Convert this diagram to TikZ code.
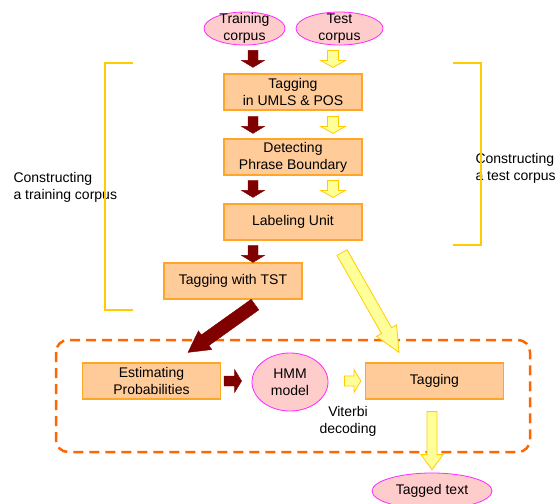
\documentclass[tikz,border=0pt]{standalone}
\usepackage{fontspec}
\setmainfont{Liberation Sans}
\usetikzlibrary{shapes, positioning, calc}

\definecolor{boxfill}{RGB}{255,204,153}
\definecolor{boxline}{RGB}{255,165,40}
\definecolor{ovalfill}{RGB}{255,204,204}
\definecolor{ovalline}{RGB}{255,40,255}
\definecolor{darkred}{RGB}{128,0,0}
\definecolor{lightyellow}{RGB}{255,255,153}
\definecolor{gold}{RGB}{255,204,0}
\definecolor{dashorange}{RGB}{255,102,0}

\tikzset{
  shaftw/.store in=\shaftw, headw/.store in=\headw, headl/.store in=\headl,
  gapa/.store in=\gapa, gapb/.store in=\gapb,
  shaftw=5pt, headw=11.5pt, headl=7pt, gapa=0pt, gapb=0pt,
  redarrow/.style={fill=darkred, draw=darkred, line width=0.4pt},
  yellowarrow/.style={fill=lightyellow, draw=gold, line width=0.8pt}
}

% block arrow from #2 to #3
\newcommand\blockarrow[3][]{%
  \path[#1] let \p1=#2, \p2=#3,
      \p3=($(\p1)!\gapa!(\p2)$), \p4=($(\p2)!\gapb!(\p1)$),
      \n1={veclen(\x4-\x3,\y4-\y3)} in
    ($(\p3)!\shaftw!90:(\p4)$)
    -- ($(\p3)!{\n1-\headl}!(\p4)!\shaftw!90:(\p4)$)
    -- ($(\p3)!{\n1-\headl}!(\p4)!\headw!90:(\p4)$)
    -- (\p4)
    -- ($(\p3)!{\n1-\headl}!(\p4)!\headw!-90:(\p4)$)
    -- ($(\p3)!{\n1-\headl}!(\p4)!\shaftw!-90:(\p4)$)
    -- ($(\p3)!\shaftw!-90:(\p4)$) -- cycle;
}

\begin{document}
\begin{tikzpicture}[x=1pt, y=-1pt, font=\fontsize{14}{17}\selectfont,
  box/.style={rectangle, draw=boxline, fill=boxfill, line width=1.2pt,
    minimum width=138pt, minimum height=36pt, align=center, inner sep=0pt},
  oval/.style={ellipse, draw=ovalline, fill=ovalfill, line width=0.8pt,
    align=center, inner xsep=0pt, inner ysep=-6pt},
  bracket/.style={draw=gold, line width=1.2pt}]
\useasboundingbox (0,0) rectangle (555,504);

\draw[dashorange, line width=2.5pt, dash pattern=on 10pt off 6pt, rounded corners=12pt]
  (56,340) rectangle (530,452);

\node (train)[oval, minimum width=81pt, minimum height=33pt] at (244.5, 28.5) {Training\\corpus};
\node (test)[oval, minimum width=87pt, minimum height=33pt] at (339.5, 28.5) {Test\\corpus};

\node (umls)[box] at (293, 92) {Tagging\\in UMLS \& POS};
\node (phrase)[box] at (293, 157) {Detecting\\Phrase Boundary};
\node (unit)[box] at (293, 222) {Labeling Unit};
\node (tst)[box] at (233, 281) {Tagging with TST};

\node (estim)[box] at (151.5, 381) {Estimating\\Probabilities};
\node (hmm)[oval, minimum width=76pt, minimum height=58pt] at (290, 382) {HMM\\model};
\node (tagging)[box] at (434.5, 381) {Tagging};
\node (viterbi)[align=center] at (348, 421) {Viterbi\\decoding};
\node (tagged)[oval, minimum width=120pt, minimum height=36pt] at (432, 491) {Tagged text};

\node (trainlab)[anchor=west, align=left] at (10, 187) {Constructing\\a training corpus};
\node (testlab)[anchor=west, align=left] at (472, 168) {Constructing\\a test corpus};

\draw[bracket] (133,63) -- (105,63) -- (105,310) -- (133,310);
\draw[bracket] (453,63) -- (481,63) -- (481,245) -- (453,245);

\coordinate (rcol) at (253,0);
\coordinate (ycol) at (333,0);

% training path
\blockarrow[redarrow, gapa=5pt, gapb=6pt]{(train.south -| rcol)}{(umls.north -| rcol)}
\blockarrow[redarrow, gapa=6pt, gapb=5pt]{(umls.south -| rcol)}{(phrase.north -| rcol)}
\blockarrow[redarrow, gapa=5pt, gapb=6pt]{(phrase.south -| rcol)}{(unit.north -| rcol)}
\blockarrow[redarrow, gapa=5pt, gapb=0pt]{(unit.south -| rcol)}{(tst.north -| rcol)}
\blockarrow[redarrow, shaftw=6.5pt, headw=11.5pt, headl=21pt]{($(tst.south)+(22,5)$)}{($(estim.north)+(36.5,-10)$)}
\blockarrow[redarrow, gapa=3pt, gapb=10pt]{(estim.east)}{(hmm.west |- estim.east)}

% test path
\blockarrow[yellowarrow, shaftw=5.5pt, headw=12.5pt, gapa=5pt, gapb=6pt]{(test.south -| ycol)}{(umls.north -| ycol)}
\blockarrow[yellowarrow, shaftw=5.5pt, headw=12.5pt, gapa=6pt, gapb=5pt]{(umls.south -| ycol)}{(phrase.north -| ycol)}
\blockarrow[yellowarrow, shaftw=5.5pt, headw=12.5pt, gapa=5pt, gapb=6pt]{(phrase.south -| ycol)}{(unit.north -| ycol)}
\blockarrow[yellowarrow, shaftw=5.8pt, headw=11.5pt, headl=25pt]{($(unit.south)+(49,12)$)}{($(tagging.north)+(-35.5,-10)$)}
\blockarrow[yellowarrow, shaftw=5pt, headw=11.5pt, gapa=16pt, gapb=4pt]{(hmm.east |- tagging.west)}{(tagging.west)}
\blockarrow[yellowarrow, shaftw=5pt, headw=11pt, headl=15pt, gapa=12pt, gapb=3pt]{(tagging.south -| tagged.north)}{(tagged.north)}
\end{tikzpicture}
\end{document}
